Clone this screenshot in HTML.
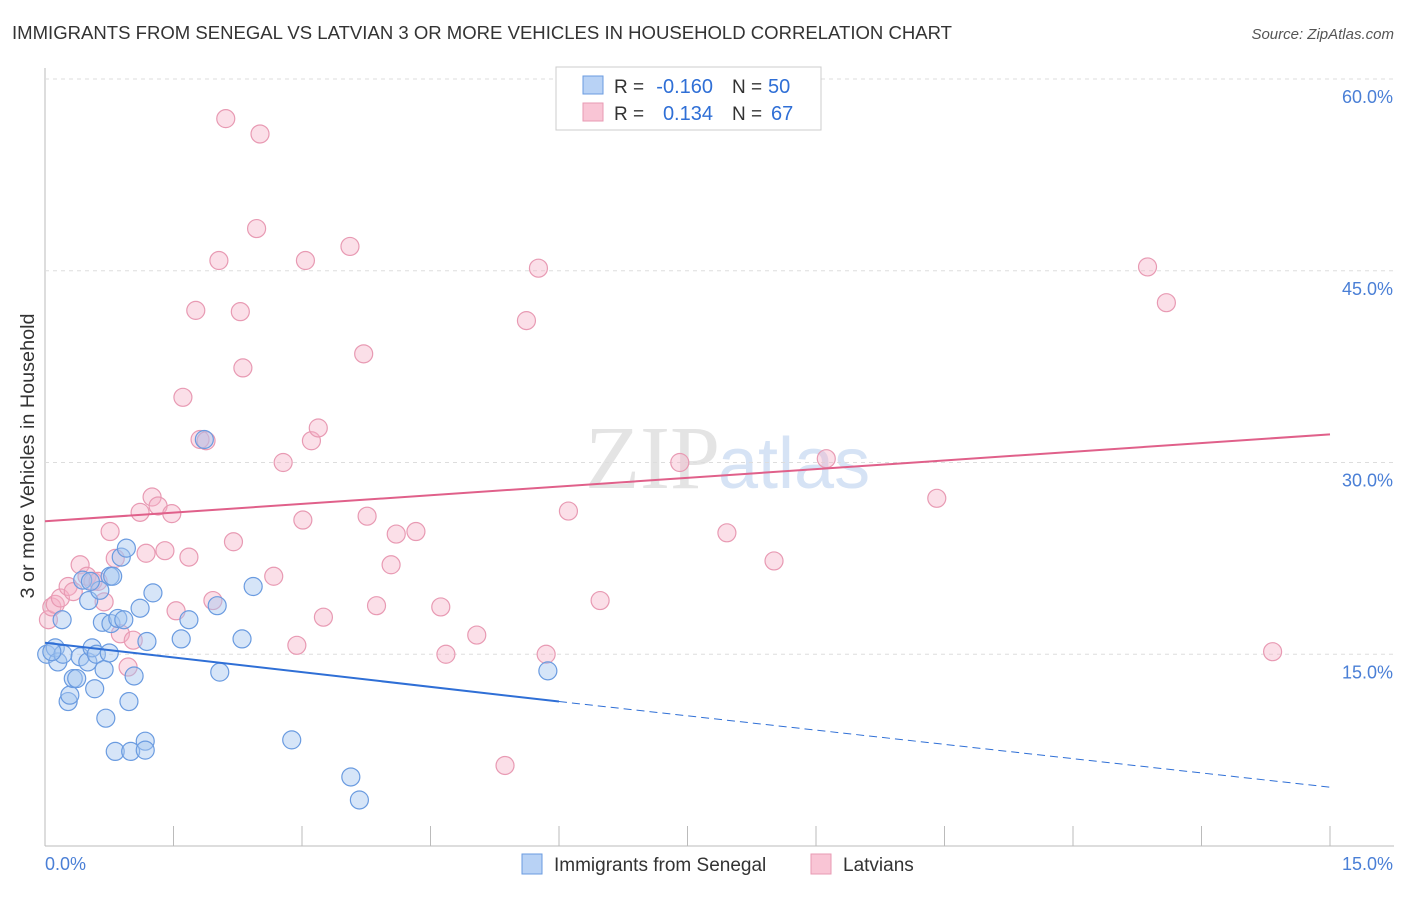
<!DOCTYPE html>
<html><head><meta charset="utf-8">
<style>
body{margin:0;background:#fff;font-family:"Liberation Sans",sans-serif;}
#c{position:relative;width:1406px;height:892px;}
</style></head>
<body>
<div id="c">
<svg id="s" width="1406" height="892" xmlns="http://www.w3.org/2000/svg">
<text x="12" y="39" font-size="18" fill="#333" textLength="940" lengthAdjust="spacingAndGlyphs">IMMIGRANTS FROM SENEGAL VS LATVIAN 3 OR MORE VEHICLES IN HOUSEHOLD CORRELATION CHART</text>
<text x="1394" y="39" font-size="15" fill="#555" font-style="italic" text-anchor="end">Source: ZipAtlas.com</text>
<text x="0" y="0" transform="translate(34,456) rotate(-90)" font-size="19" fill="#333" text-anchor="middle" textLength="285" lengthAdjust="spacingAndGlyphs">3 or more Vehicles in Household</text>
<text x="720" y="488" font-size="90" fill="#e4e4e4" text-anchor="end" font-family="Liberation Serif">ZIP</text>
<text x="718" y="488" font-size="72" fill="#d6e3f5">atlas</text>
<g id="grid"></g><g id="pts"></g><g id="trend"></g>
<g>
<rect x="556" y="67" width="265" height="63" fill="#fff" stroke="#ccc"/>
<rect x="583" y="76" width="20" height="18" fill="#b8d2f5" stroke="#6a9be0"/>
<rect x="583" y="103" width="20" height="18" fill="#f9c5d5" stroke="#e89ab3"/>
<text x="614" y="93" font-size="19" fill="#333">R =</text>
<text x="713" y="93" font-size="20" fill="#2f6fd6" text-anchor="end">-0.160</text>
<text x="732" y="93" font-size="19" fill="#333">N =</text>
<text x="768" y="93" font-size="20" fill="#2f6fd6">50</text>
<text x="614" y="120" font-size="19" fill="#333">R =</text>
<text x="713" y="120" font-size="20" fill="#2f6fd6" text-anchor="end">0.134</text>
<text x="732" y="120" font-size="19" fill="#333">N =</text>
<text x="771" y="120" font-size="20" fill="#2f6fd6">67</text>
</g>
<g>
<rect x="522" y="854" width="20" height="20" fill="#b8d2f5" stroke="#6a9be0"/>
<text x="554" y="871" font-size="19" fill="#333">Immigrants from Senegal</text>
<rect x="811" y="854" width="20" height="20" fill="#f9c5d5" stroke="#e89ab3"/>
<text x="843" y="871" font-size="19" fill="#333">Latvians</text>
</g>
<text x="45" y="870" font-size="18" fill="#4a7fd6">0.0%</text>
<text x="1393" y="870" font-size="18" fill="#4a7fd6" text-anchor="end">15.0%</text>
</svg>
</div>
<script>
const yTicks=[15,30,45,60];
const yTickLabels=["15.0%","30.0%","45.0%","60.0%"];
const xTicks=[0,1.5,3,4.5,6,7.5,9,10.5,12,13.5,15];
const senegalX=[0.02,0.12,0.15,0.2,0.21,0.27,0.29,0.33,0.37,0.41,0.44,0.5,0.51,0.55,0.58,0.6,0.67,0.69,0.71,0.75,0.76,0.77,0.82,0.85,0.89,0.92,0.95,0.98,1.0,1.04,1.11,1.17,1.19,1.26,1.59,1.68,1.86,2.01,2.04,2.3,2.43,2.88,3.57,3.67,5.87,0.79,0.08,0.64,1.17,0.53];
const senegalY=[15.0,15.5,14.4,17.7,15.0,11.3,11.8,13.1,13.1,14.8,20.8,14.4,19.2,15.5,12.3,15.0,17.5,13.8,10.0,15.1,21.1,17.4,7.4,17.8,22.6,17.7,23.3,11.3,7.4,13.3,18.6,8.2,16.0,19.8,16.2,17.7,31.8,18.8,13.6,16.2,20.3,8.3,5.4,3.6,13.7,21.1,15.2,20.0,7.5,20.7];
const latviaX=[0.04,0.08,0.12,0.18,0.27,0.33,0.41,0.49,0.56,0.62,0.69,0.76,0.82,0.88,0.97,1.03,1.11,1.18,1.25,1.32,1.4,1.48,1.53,1.61,1.68,1.76,1.81,1.88,1.96,2.11,2.03,2.2,2.28,2.31,2.47,2.51,2.67,2.78,2.94,3.01,3.04,3.11,3.19,3.25,3.56,3.72,3.76,3.87,4.04,4.1,4.33,4.62,4.68,5.04,5.37,5.62,5.76,5.85,6.11,6.48,7.41,7.96,8.51,9.12,10.41,12.87,13.09,14.33];
const latviaY=[17.7,18.7,18.9,19.4,20.3,19.9,22.0,21.1,20.7,20.7,19.1,24.6,22.5,16.6,14.0,16.1,26.1,22.9,27.3,26.6,23.1,26.0,18.4,35.1,22.6,41.9,31.8,31.7,19.2,56.9,45.8,23.8,41.8,37.4,48.3,55.7,21.1,30.0,15.7,25.5,45.8,31.7,32.7,17.9,46.9,38.5,25.8,18.8,22.0,24.4,24.6,18.7,15.0,16.5,6.3,41.1,45.2,15.0,26.2,19.2,30.0,24.5,22.3,30.3,27.2,45.3,42.5,15.2];
const X=v=>45+v/15*1285, Y=v=>846-v/60*767;
const NS="http://www.w3.org/2000/svg";
function mk(t,a,p){const e=document.createElementNS(NS,t);for(const k in a)e.setAttribute(k,a[k]);p.appendChild(e);return e;}
const g=document.getElementById('grid');
const ax=mk('line',{x1:45,y1:68,x2:45,y2:846,stroke:'#bbb'},g);


const bx=mk('line',{x1:45,y1:846,x2:1394,y2:846,stroke:'#bbb'},g);


yTicks.forEach((v,i)=>{
 const l=mk('line',{x1:45,y1:Y(v),x2:1394,y2:Y(v),stroke:'#ddd','stroke-dasharray':'4,4'},g);
 
 
 const t=mk('text',{x:1393,y:Y(v)+24,'font-size':18,fill:'#4a7fd6','text-anchor':'end'},g);
 t.textContent=yTickLabels[i];
 
 
});
xTicks.forEach(v=>{
 const l=mk('line',{x1:X(v),y1:826,x2:X(v),y2:846,stroke:'#bbb'},g);
 
 
});
const p=document.getElementById('pts');
latviaX.forEach((v,i)=>{
 const c=mk('circle',{cx:X(v),cy:Y(latviaY[i]),r:9,fill:'rgba(245,175,198,0.4)',stroke:'#e89ab3','stroke-width':1.2},p);
 
 
});
senegalX.forEach((v,i)=>{
 const c=mk('circle',{cx:X(v),cy:Y(senegalY[i]),r:9,fill:'rgba(165,198,240,0.45)',stroke:'#6a9be0','stroke-width':1.2},p);
 
 
});
const tr=document.getElementById('trend');
const bs=[0,15.9],bm=[6,11.3],be=[15,4.6];
const t1=mk('line',{x1:X(bs[0]),y1:Y(bs[1]),x2:X(bm[0]),y2:Y(bm[1]),stroke:'#2f6fd6','stroke-width':2},tr);


const t2=mk('line',{x1:X(bm[0]),y1:Y(bm[1]),x2:X(be[0]),y2:Y(be[1]),stroke:'#2f6fd6','stroke-width':1,'stroke-dasharray':'8,5'},tr);


const ls=[0,25.4],le=[15,32.2];
const t3=mk('line',{x1:X(ls[0]),y1:Y(ls[1]),x2:X(le[0]),y2:Y(le[1]),stroke:'#e0608a','stroke-width':2},tr);


</script>
</body></html>
